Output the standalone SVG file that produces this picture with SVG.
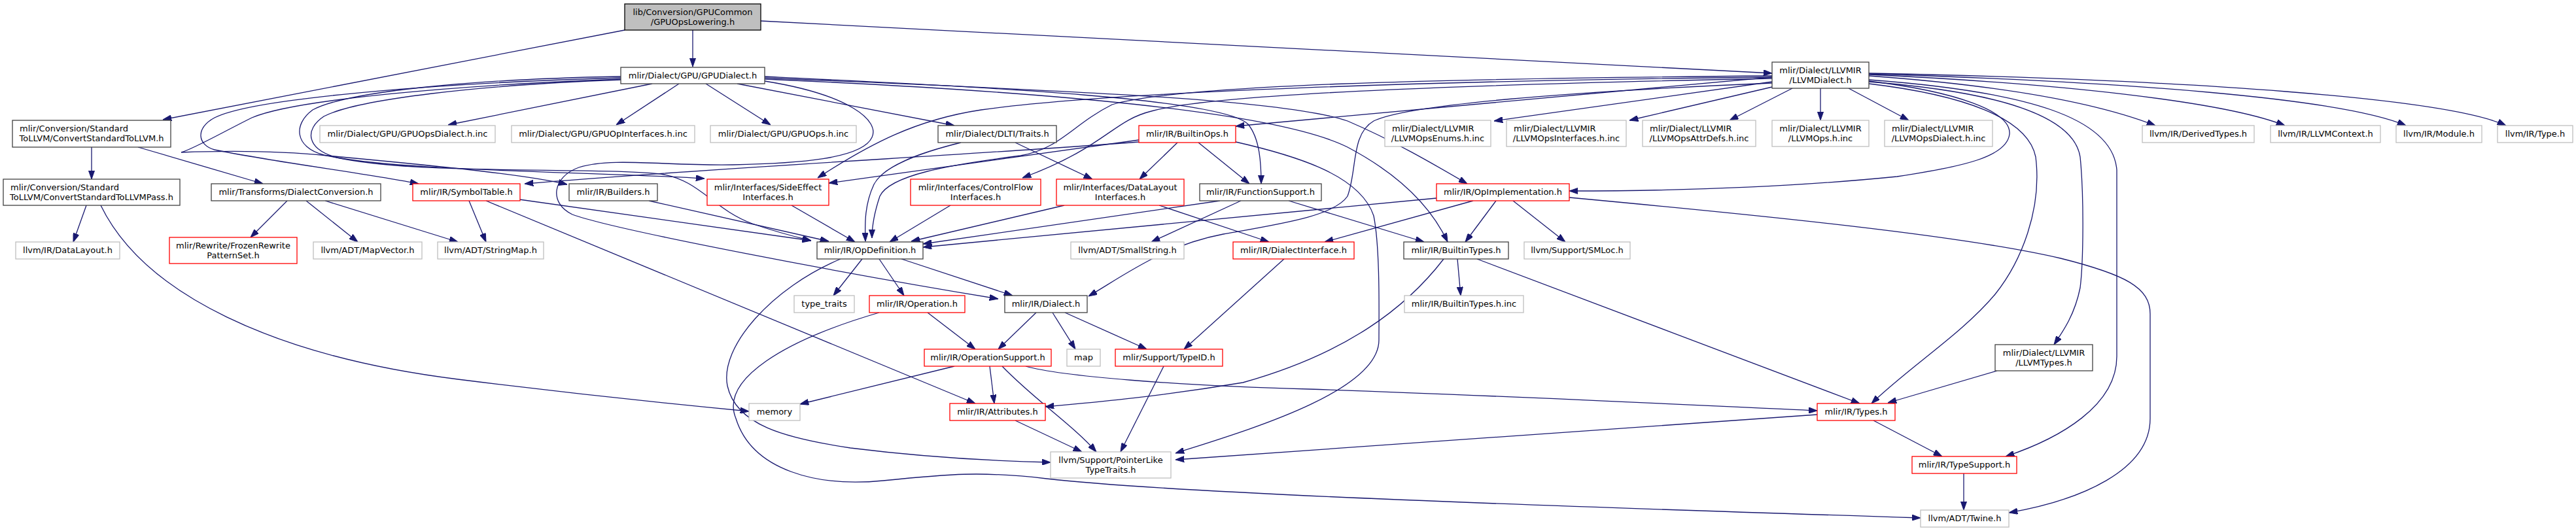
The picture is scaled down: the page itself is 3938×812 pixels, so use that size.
<svg xmlns="http://www.w3.org/2000/svg" width="3938" height="812" viewBox="0 0 3938 812">
<style>
rect{stroke-width:1.3}
.nb{fill:#fff;stroke:#404040}
.nr{fill:#fff;stroke:#ff0000}
.ng{fill:#fff;stroke:#bfbfbf}
.rt{fill:#bfbfbf;stroke:#000}
text{font-family:"DejaVu Sans","Liberation Sans",sans-serif;font-size:13px;fill:#000;text-anchor:middle}
text.l{text-anchor:start}
.e{fill:none;stroke:#191970;stroke-width:1.3;marker-end:url(#arr)}
</style>
<defs>
<marker id="arr" viewBox="0 0 13.3 9.3" refX="13.3" refY="4.65" markerWidth="13.3" markerHeight="9.3" markerUnits="userSpaceOnUse" orient="auto"><path d="M0,0 L13.3,4.65 L0,9.3 Z" fill="#191970" stroke="#191970" stroke-width="1"/></marker>
</defs>
<rect x="0" y="0" width="3938" height="812" fill="#fff"/>
<g id="connectors">
<path class="e" d="M955,46 L249,183"/>
<path class="e" d="M1059,46 L1059,102"/>
<path class="e" d="M1163,32 L2709,112"/>
<path class="e" d="M997,128 L685,191"/>
<path class="e" d="M1038,128 L942,191"/>
<path class="e" d="M1079,128 L1178,191"/>
<path class="e" d="M1127,128 L1459,192"/>
<path class="e" d="M949,119 C700,126 390,148 328,180 C298,196 302,222 328,229 C420,248 560,265 640,281"/>
<path class="e" d="M949,121 C700,130 450,152 385,180 C335,205 295,228 277,233 C330,231 420,230 500,238 C650,252 800,266 867,282"/>
<path class="e" d="M949,117 C720,121 530,140 478,168 C448,190 450,225 495,237 C600,262 900,262 1077,273"/>
<path class="e" d="M949,122 C730,130 545,152 495,178 C465,198 468,228 515,241 C640,268 900,255 1010,266 C1070,275 1090,320 1150,342 C1190,356 1215,362 1240,368"/>
<path class="e" d="M1169,124 C1300,145 1345,185 1333,210 C1318,243 1220,250 1120,252 C1020,254 935,240 885,256 C845,270 838,310 875,328 C940,352 1300,420 1526,457"/>
<path class="e" d="M1169,117 C1500,133 1870,150 1908,190 C1926,212 1928,250 1928,281"/>
<path class="e" d="M1169,119 C1600,138 1960,150 2060,185 C2130,215 2190,250 2243,281"/>
<path class="e" d="M1169,121 C1600,140 1950,170 2060,225 C2130,262 2185,310 2213,370"/>
<path class="e" d="M140,225 L140,274"/>
<path class="e" d="M211,225 L402,281"/>
<path class="e" d="M132,314 L112,370"/>
<path class="e" d="M154,314 C220,450 420,545 700,580 C900,605 1050,620 1145,629"/>
<path class="e" d="M439,307 L383,363"/>
<path class="e" d="M468,307 L547,370"/>
<path class="e" d="M497,307 L700,370"/>
<path class="e" d="M717,307 L743,370"/>
<path class="e" d="M794,305 L1240,368"/>
<path class="e" d="M743,307 L1491,617"/>
<path class="e" d="M992,307 L1267,369"/>
<path class="e" d="M1552,218 L1670,274"/>
<path class="e" d="M1469,218 C1400,235 1350,255 1336,282 C1322,312 1322,340 1323,369"/>
<path class="e" d="M1741,214 L1267,280"/>
<path class="e" d="M1741,217 C1500,236 1100,256 802,281"/>
<path class="e" d="M1800,218 L1742,274"/>
<path class="e" d="M1832,218 L1910,281"/>
<path class="e" d="M1889,217 C1990,240 2080,270 2100,330 C2110,380 2108,480 2108,520 C2108,600 1900,660 1797,693"/>
<path class="e" d="M1210,314 L1307,370"/>
<path class="e" d="M1453,314 L1360,370"/>
<path class="e" d="M1627,314 L1393,369"/>
<path class="e" d="M1772,314 L1940,370"/>
<path class="e" d="M1865,307 L1411,373"/>
<path class="e" d="M1897,307 L1760,370"/>
<path class="e" d="M1970,307 L2177,370"/>
<path class="e" d="M2196,303 L1411,378"/>
<path class="e" d="M2252,307 L2025,370"/>
<path class="e" d="M2287,307 L2240,370"/>
<path class="e" d="M2313,307 L2393,370"/>
<path class="e" d="M2399,302 C2700,330 3000,360 3150,395 C3250,420 3287,440 3287,480 L3287,640 C3287,720 3180,765 3071,784"/>
<path class="e" d="M1318,396 L1274,452"/>
<path class="e" d="M1344,396 L1382,452"/>
<path class="e" d="M1378,396 L1548,452"/>
<path class="e" d="M1285,396 C1180,440 1100,530 1112,590 C1125,650 1200,670 1300,685 C1420,700 1520,705 1606,707"/>
<path class="e" d="M1418,478 L1491,534"/>
<path class="e" d="M1344,478 C1200,520 1100,580 1125,640 C1150,720 1250,745 1350,735 C1450,725 1500,720 1600,732 C1800,755 2400,775 2936,792"/>
<path class="e" d="M1584,478 L1526,534"/>
<path class="e" d="M1609,478 L1644,534"/>
<path class="e" d="M1628,478 L1753,534"/>
<path class="e" d="M1459,560 L1223,618"/>
<path class="e" d="M1513,560 L1520,617"/>
<path class="e" d="M1532,560 C1580,610 1640,650 1676,691"/>
<path class="e" d="M1568,560 C1620,575 1800,590 2000,595 C2300,605 2600,620 2778,628"/>
<path class="e" d="M1779,560 L1713,691"/>
<path class="e" d="M1552,643 L1654,691"/>
<path class="e" d="M1963,396 L1810,534"/>
<path class="e" d="M2228,396 L2233,452"/>
<path class="e" d="M2207,396 C2150,470 2060,540 1900,585 C1750,610 1650,617 1598,622"/>
<path class="e" d="M2258,396 L2843,617"/>
<path class="e" d="M2709,125 L2284,185"/>
<path class="e" d="M2709,133 L2491,184"/>
<path class="e" d="M2740,135 L2644,184"/>
<path class="e" d="M2783,135 L2783,184"/>
<path class="e" d="M2826,135 L2918,184"/>
<path class="e" d="M2857,116 C3050,130 3200,155 3295,192"/>
<path class="e" d="M2857,114 C3150,128 3400,155 3493,192"/>
<path class="e" d="M2857,113 C3250,125 3580,150 3678,192"/>
<path class="e" d="M2857,112 C3350,122 3740,150 3831,192"/>
<path class="e" d="M2857,128 C3000,145 3100,180 3112,240 C3122,320 3090,400 3050,450 C3000,510 2920,560 2861,617"/>
<path class="e" d="M2857,125 C3050,140 3170,175 3180,240 C3186,300 3185,400 3180,440 C3172,480 3155,505 3140,527"/>
<path class="e" d="M2857,122 C3100,140 3230,180 3236,260 L3236,545 C3236,620 3150,670 3066,698"/>
<path class="e" d="M2857,124 C2990,140 3075,170 3072,205 C3068,240 3000,255 2900,270 C2700,290 2500,292 2399,292"/>
<path class="e" d="M2709,118 L1889,193"/>
<path class="e" d="M2709,127 C2400,140 2150,160 2100,185 C2065,205 2075,260 2060,300 C2040,330 1960,342 1870,358 C1780,375 1720,420 1664,453"/>
<path class="e" d="M2709,120 C2200,130 1850,145 1760,170 C1700,185 1690,225 1563,272"/>
<path class="e" d="M2709,118 C2200,123 1700,140 1500,168 C1400,183 1330,220 1250,272"/>
<path class="e" d="M2709,116 C2200,120 1800,130 1700,160 C1640,190 1620,228 1560,238 C1450,252 1360,268 1345,300 C1335,330 1333,350 1333,364"/>
<path class="e" d="M3053,567 L2886,616"/>
<path class="e" d="M2864,643 L2969,698"/>
<path class="e" d="M2778,634 L1797,703"/>
<path class="e" d="M3002,724 L3002,780"/>
</g>
<g id="n-root"><rect class="rt" x="955" y="6" width="208" height="40"/><text x="1059" y="22.5">lib/Conversion/GPUCommon</text><text x="1059" y="37.5">/GPUOpsLowering.h</text></g>
<g id="n-gpudialect"><rect class="nb" x="949" y="103" width="220" height="25"/><text x="1059" y="119.5">mlir/Dialect/GPU/GPUDialect.h</text></g>
<g id="n-llvmdialect"><rect class="nb" x="2709" y="95" width="148" height="40"/><text x="2783" y="111.5">mlir/Dialect/LLVMIR</text><text x="2783" y="126.5">/LLVMDialect.h</text></g>
<g id="n-convstd"><rect class="nb" x="19" y="184" width="242" height="41"/><text class="l" x="30" y="200.5">mlir/Conversion/Standard</text><text x="140" y="215.5">ToLLVM/ConvertStandardToLLVM.h</text></g>
<g id="n-convstdpass"><rect class="nb" x="5" y="274" width="270" height="40"/><text class="l" x="16" y="290.5">mlir/Conversion/Standard</text><text x="140" y="305.5">ToLLVM/ConvertStandardToLLVMPass.h</text></g>
<g id="n-dialectconv"><rect class="nb" x="323" y="281" width="259" height="26"/><text x="452.5" y="298">mlir/Transforms/DialectConversion.h</text></g>
<g id="n-symboltable"><rect class="nr" x="631" y="281" width="164" height="26"/><text x="713" y="298">mlir/IR/SymbolTable.h</text></g>
<g id="n-builders"><rect class="nb" x="870" y="281" width="135" height="26"/><text x="937.5" y="298">mlir/IR/Builders.h</text></g>
<g id="n-datalayout"><rect class="ng" x="24" y="370" width="159" height="26"/><text x="103.5" y="387">llvm/IR/DataLayout.h</text></g>
<g id="n-frozen"><rect class="nr" x="259" y="363" width="195" height="40"/><text x="356.5" y="379.5">mlir/Rewrite/FrozenRewrite</text><text x="356.5" y="394.5">PatternSet.h</text></g>
<g id="n-mapvector"><rect class="ng" x="479" y="370" width="166" height="26"/><text x="562" y="387">llvm/ADT/MapVector.h</text></g>
<g id="n-stringmap"><rect class="ng" x="669" y="370" width="162" height="26"/><text x="750" y="387">llvm/ADT/StringMap.h</text></g>
<g id="n-gpuopsdialect"><rect class="ng" x="489" y="192" width="268" height="26"/><text x="623" y="209">mlir/Dialect/GPU/GPUOpsDialect.h.inc</text></g>
<g id="n-gpuopinterfaces"><rect class="ng" x="782" y="192" width="280" height="26"/><text x="922" y="209">mlir/Dialect/GPU/GPUOpInterfaces.h.inc</text></g>
<g id="n-gpuops"><rect class="ng" x="1086" y="192" width="223" height="26"/><text x="1197.5" y="209">mlir/Dialect/GPU/GPUOps.h.inc</text></g>
<g id="n-dlti"><rect class="nb" x="1434" y="192" width="181" height="26"/><text x="1524.5" y="209">mlir/Dialect/DLTI/Traits.h</text></g>
<g id="n-builtinops"><rect class="nr" x="1741" y="192" width="148" height="26"/><text x="1815" y="209">mlir/IR/BuiltinOps.h</text></g>
<g id="n-sideeffect"><rect class="nr" x="1081" y="274" width="186" height="40"/><text x="1174" y="290.5">mlir/Interfaces/SideEffect</text><text x="1174" y="305.5">Interfaces.h</text></g>
<g id="n-controlflow"><rect class="nr" x="1392" y="274" width="199" height="40"/><text x="1491.5" y="290.5">mlir/Interfaces/ControlFlow</text><text x="1491.5" y="305.5">Interfaces.h</text></g>
<g id="n-datalayoutifc"><rect class="nr" x="1615" y="274" width="195" height="40"/><text x="1712.5" y="290.5">mlir/Interfaces/DataLayout</text><text x="1712.5" y="305.5">Interfaces.h</text></g>
<g id="n-functionsupport"><rect class="nb" x="1834" y="281" width="186" height="26"/><text x="1927" y="298">mlir/IR/FunctionSupport.h</text></g>
<g id="n-opdefinition"><rect class="nb" x="1249" y="370" width="162" height="26"/><text x="1330" y="387">mlir/IR/OpDefinition.h</text></g>
<g id="n-smallstring"><rect class="ng" x="1637" y="370" width="173" height="26"/><text x="1723.5" y="387">llvm/ADT/SmallString.h</text></g>
<g id="n-dialectinterface"><rect class="nr" x="1885" y="370" width="185" height="26"/><text x="1977.5" y="387">mlir/IR/DialectInterface.h</text></g>
<g id="n-llvmopsenums"><rect class="ng" x="2117" y="184" width="162" height="40"/><text class="l" x="2128" y="200.5">mlir/Dialect/LLVMIR</text><text x="2198" y="215.5">/LLVMOpsEnums.h.inc</text></g>
<g id="n-llvmopsinterfaces"><rect class="ng" x="2303" y="184" width="183" height="40"/><text class="l" x="2314" y="200.5">mlir/Dialect/LLVMIR</text><text x="2394.5" y="215.5">/LLVMOpsInterfaces.h.inc</text></g>
<g id="n-llvmopsattrdefs"><rect class="ng" x="2511" y="184" width="173" height="40"/><text class="l" x="2522" y="200.5">mlir/Dialect/LLVMIR</text><text x="2597.5" y="215.5">/LLVMOpsAttrDefs.h.inc</text></g>
<g id="n-llvmops"><rect class="ng" x="2709" y="184" width="148" height="40"/><text x="2783" y="200.5">mlir/Dialect/LLVMIR</text><text x="2783" y="215.5">/LLVMOps.h.inc</text></g>
<g id="n-llvmopsdialect"><rect class="ng" x="2881" y="184" width="165" height="40"/><text class="l" x="2892" y="200.5">mlir/Dialect/LLVMIR</text><text x="2963.5" y="215.5">/LLVMOpsDialect.h.inc</text></g>
<g id="n-opimplementation"><rect class="nr" x="2196" y="281" width="203" height="26"/><text x="2297.5" y="298">mlir/IR/OpImplementation.h</text></g>
<g id="n-builtintypes"><rect class="nb" x="2146" y="370" width="160" height="26"/><text x="2226" y="387">mlir/IR/BuiltinTypes.h</text></g>
<g id="n-smloc"><rect class="ng" x="2330" y="370" width="162" height="26"/><text x="2411" y="387">llvm/Support/SMLoc.h</text></g>
<g id="n-derivedtypes"><rect class="ng" x="3275" y="192" width="171" height="26"/><text x="3360.5" y="209">llvm/IR/DerivedTypes.h</text></g>
<g id="n-llvmcontext"><rect class="ng" x="3471" y="192" width="168" height="26"/><text x="3555" y="209">llvm/IR/LLVMContext.h</text></g>
<g id="n-module"><rect class="ng" x="3663" y="192" width="131" height="26"/><text x="3728.5" y="209">llvm/IR/Module.h</text></g>
<g id="n-type"><rect class="ng" x="3818" y="192" width="115" height="26"/><text x="3875.5" y="209">llvm/IR/Type.h</text></g>
<g id="n-typetraits"><rect class="ng" x="1214" y="452" width="92" height="26"/><text x="1260" y="469">type_traits</text></g>
<g id="n-operation"><rect class="nr" x="1329" y="452" width="146" height="26"/><text x="1402" y="469">mlir/IR/Operation.h</text></g>
<g id="n-dialect"><rect class="nb" x="1536" y="452" width="126" height="26"/><text x="1599" y="469">mlir/IR/Dialect.h</text></g>
<g id="n-operationsupport"><rect class="nr" x="1413" y="534" width="194" height="26"/><text x="1510" y="551">mlir/IR/OperationSupport.h</text></g>
<g id="n-map"><rect class="ng" x="1631" y="534" width="51" height="26"/><text x="1656.5" y="551">map</text></g>
<g id="n-typeid"><rect class="nr" x="1705" y="534" width="164" height="26"/><text x="1787" y="551">mlir/Support/TypeID.h</text></g>
<g id="n-memory"><rect class="ng" x="1145" y="617" width="78" height="26"/><text x="1184" y="634">memory</text></g>
<g id="n-attributes"><rect class="nr" x="1452" y="617" width="146" height="26"/><text x="1525" y="634">mlir/IR/Attributes.h</text></g>
<g id="n-pointerlike"><rect class="ng" x="1606" y="691" width="184" height="40"/><text x="1698" y="707.5">llvm/Support/PointerLike</text><text x="1698" y="722.5">TypeTraits.h</text></g>
<g id="n-builtintypesinc"><rect class="ng" x="2147" y="452" width="182" height="26"/><text x="2238" y="469">mlir/IR/BuiltinTypes.h.inc</text></g>
<g id="n-types"><rect class="nr" x="2778" y="617" width="119" height="26"/><text x="2837.5" y="634">mlir/IR/Types.h</text></g>
<g id="n-typesupport"><rect class="nr" x="2923" y="698" width="160" height="26"/><text x="3003" y="715">mlir/IR/TypeSupport.h</text></g>
<g id="n-twine"><rect class="ng" x="2936" y="780" width="135" height="26"/><text x="3003.5" y="797">llvm/ADT/Twine.h</text></g>
<g id="n-llvmtypes"><rect class="nb" x="3050" y="527" width="149" height="40"/><text x="3124.5" y="543.5">mlir/Dialect/LLVMIR</text><text x="3124.5" y="558.5">/LLVMTypes.h</text></g>
</svg>
